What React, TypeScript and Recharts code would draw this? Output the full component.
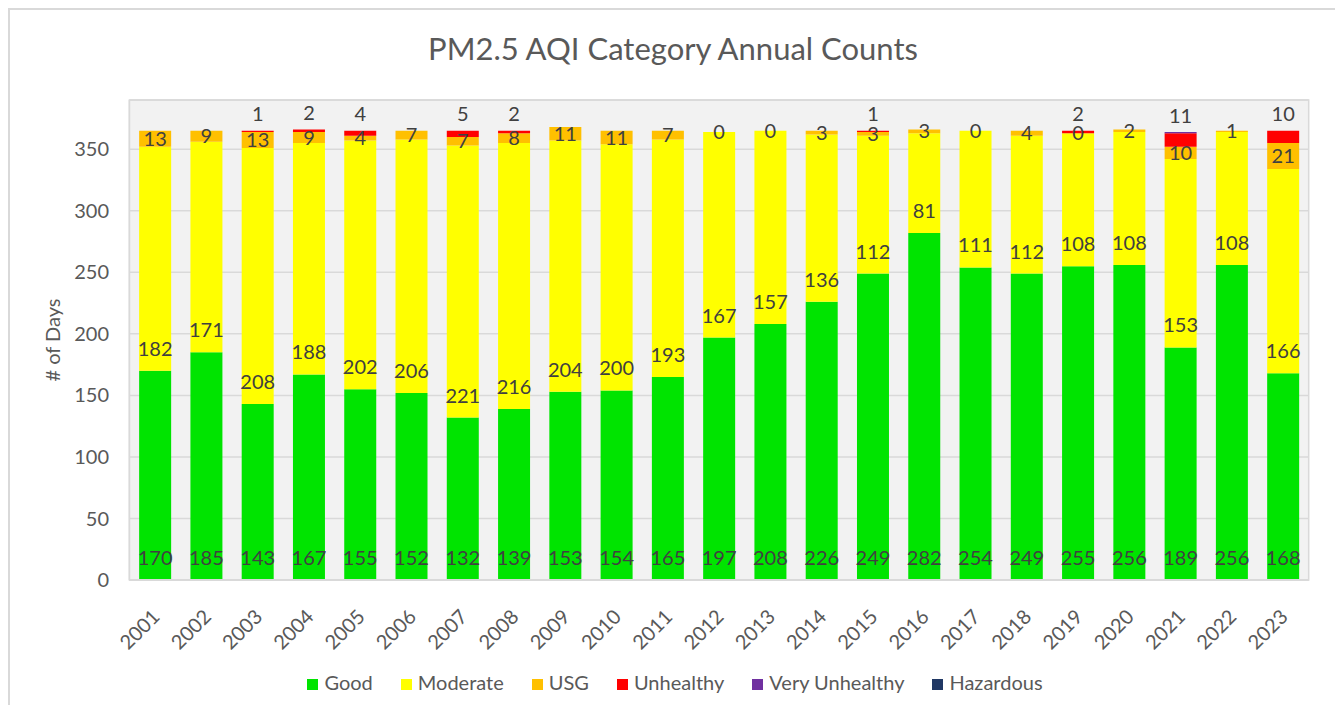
import React from 'react';
import {
  BarChart,
  Bar,
  XAxis,
  YAxis,
  CartesianGrid,
  Legend,
  LabelList,
  ReferenceArea,
} from 'recharts';

const years = [
  '2001', '2002', '2003', '2004', '2005', '2006', '2007', '2008', '2009', '2010', '2011', '2012',
  '2013', '2014', '2015', '2016', '2017', '2018', '2019', '2020', '2021', '2022', '2023',
];
const good = [170, 185, 143, 167, 155, 152, 132, 139, 153, 154, 165, 197, 208, 226, 249, 282, 254, 249, 255, 256, 189, 256, 168];
const moderate = [182, 171, 208, 188, 202, 206, 221, 216, 204, 200, 193, 167, 157, 136, 112, 81, 111, 112, 108, 108, 153, 108, 166];
const usg = [13, 9, 13, 9, 4, 7, 7, 8, 11, 11, 7, 0, 0, 3, 3, 3, 0, 4, 0, 2, 10, 1, 21];
const unhealthy = [0, 0, 1, 2, 4, 0, 5, 2, 0, 0, 0, 0, 0, 0, 1, 0, 0, 0, 2, 0, 11, 0, 10];
const veryUnhealthy = [0, 0, 0, 0, 0, 0, 0, 0, 0, 0, 0, 0, 0, 0, 0, 0, 0, 0, 0, 0, 1, 0, 0];
const hazardous = [0, 0, 0, 0, 0, 0, 0, 0, 0, 0, 0, 0, 0, 0, 0, 0, 0, 0, 0, 0, 0, 0, 0];
const yTicks = [0, 50, 100, 150, 200, 250, 300, 350];

const seriesNames = ['Good', 'Moderate', 'USG', 'Unhealthy', 'Very Unhealthy', 'Hazardous'];
const seriesColors = ['#00e400', '#ffff00', '#ffc000', '#ff0000', '#7030a0', '#203864'];

const data = years.map((year, i) => ({
  year,
  Good: good[i],
  Moderate: moderate[i],
  USG: usg[i],
  Unhealthy: unhealthy[i],
  'Very Unhealthy': veryUnhealthy[i],
  Hazardous: hazardous[i],
}));

const LABEL_COLOR = '#404040';
const AXIS_TEXT = '#595959';
const GRID = '#d9d9d9';

// USG labels whose segment has zero height: Recharts skips labels for empty
// rectangles, so draw them at the top edge of the Moderate rectangle.
const renderZeroUsgLabel = (props: any) => {
  const vb = props.viewBox || props;
  const i = props.index;
  if (i == null || usg[i] !== 0) return null;
  const x = Number(vb.x) + Number(vb.width) / 2;
  const y = Number(vb.y);
  return (
    <text
      key={`zero-usg-${i}`}
      x={x}
      y={y}
      dy="0.355em"
      textAnchor="middle"
      fill={LABEL_COLOR}
      fontSize={20}
    >
      {String(usg[i])}
    </text>
  );
};

export default function App() {
  return (
    <div
      style={{
        position: 'relative',
        width: 1330,
        height: 697,
        fontFamily: 'Lato, "Noto Sans", sans-serif',
      }}
    >
      <div
        style={{
          position: 'absolute',
          left: 0,
          top: 0,
          width: 1330,
          height: 697,
          boxSizing: 'border-box',
          borderTop: `2px solid ${GRID}`,
          borderLeft: `2px solid ${GRID}`,
          borderRight: `2px solid ${GRID}`,
          pointerEvents: 'none',
        }}
      />
      <div
        style={{
          position: 'absolute',
          left: 0,
          top: 25,
          width: 1330,
          textAlign: 'center',
          fontSize: 31,
          lineHeight: '31px',
          color: AXIS_TEXT,
        }}
      >
        PM2.5 AQI Category Annual Counts
      </div>
      <BarChart
        width={1330}
        height={697}
        data={data}
        margin={{ top: 92, right: 29.3, bottom: 0, left: 0 }}
        barCategoryGap="19%"
      >
        <CartesianGrid vertical={false} stroke={GRID} strokeWidth={1.5} fill="#f2f2f2" />
        <XAxis
          dataKey="year"
          interval={0}
          angle={-45}
          textAnchor="end"
          tickLine={false}
          tickMargin={22}
          height={125}
          axisLine={{ stroke: GRID, strokeWidth: 2 }}
          tick={{ fontSize: 20, fill: AXIS_TEXT, dx: -4 }}
        />
        <YAxis
          width={121.4}
          domain={[0, 390]}
          ticks={yTicks}
          tickLine={false}
          tickMargin={14.4}
          axisLine={{ stroke: GRID, strokeWidth: 1.5 }}
          tick={{ fontSize: 20, fill: AXIS_TEXT }}
          label={{
            value: '# of Days',
            angle: -90,
            position: 'center',
            dx: -16,
            fill: AXIS_TEXT,
            fontSize: 20,
          }}
        />
        <Legend
          verticalAlign="middle"
          align="center"
          layout="horizontal"
          iconType="square"
          iconSize={11}
          itemSorter={(item: any) => seriesNames.indexOf(item.value)}
          wrapperStyle={{ top: 662, left: 16, width: 1330, fontSize: 20 }}
          formatter={(value: string) => (
            <span style={{ color: AXIS_TEXT, marginLeft: 2, marginRight: 18 }}>{value}</span>
          )}
        />
        <Bar dataKey={seriesNames[0]} stackId="a" fill={seriesColors[0]} isAnimationActive={false}>
          <LabelList dataKey={seriesNames[0]} position="insideBottom" offset={15} fill={LABEL_COLOR} fontSize={20} />
        </Bar>
        <Bar dataKey={seriesNames[1]} stackId="a" fill={seriesColors[1]} isAnimationActive={false}>
          <LabelList dataKey={seriesNames[1]} position="insideBottom" offset={15} fill={LABEL_COLOR} fontSize={20} />
          <LabelList dataKey={seriesNames[2]} content={renderZeroUsgLabel} />
        </Bar>
        <Bar dataKey={seriesNames[2]} stackId="a" fill={seriesColors[2]} isAnimationActive={false}>
          <LabelList
            dataKey={seriesNames[2]}
            position="center"
            fill={LABEL_COLOR}
            fontSize={20}
            formatter={(v: any) => String(v)}
          />
        </Bar>
        <Bar dataKey={seriesNames[3]} stackId="a" fill={seriesColors[3]} isAnimationActive={false}>
          <LabelList
            dataKey={seriesNames[3]}
            position="top"
            offset={10}
            fill={LABEL_COLOR}
            fontSize={20}
            formatter={(v: any) => (v ? String(v) : '')}
          />
        </Bar>
        <Bar dataKey={seriesNames[4]} stackId="a" fill={seriesColors[4]} isAnimationActive={false} />
        <Bar dataKey={seriesNames[5]} stackId="a" fill={seriesColors[5]} isAnimationActive={false} />
        <ReferenceArea y1={0} y2={390} fill="none" stroke={GRID} strokeWidth={1.5} ifOverflow="visible" />
      </BarChart>
    </div>
  );
}
